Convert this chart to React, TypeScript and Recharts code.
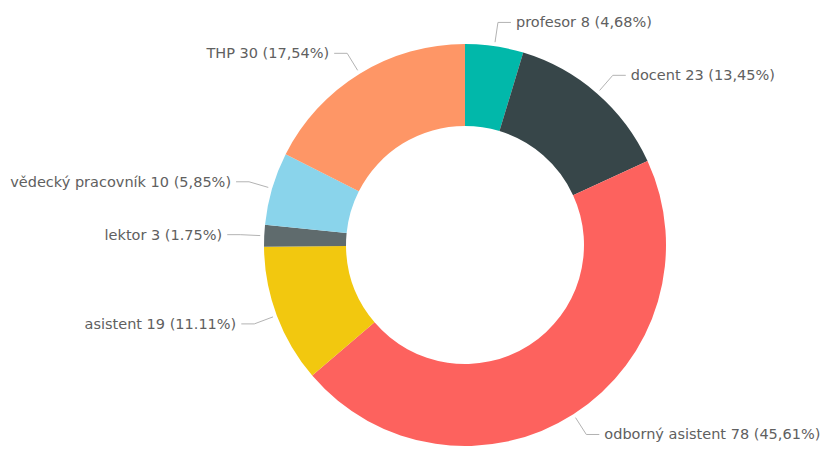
import { PieChart, Pie, Cell } from "recharts";

const categories = [
  "profesor",
  "docent",
  "odborný asistent",
  "asistent",
  "lektor",
  "vědecký pracovník",
  "THP",
];
const counts = [8, 23, 78, 19, 3, 10, 30];
const percentLabels = ["4,68%", "13,45%", "45,61%", "11.11%", "1.75%", "5,85%", "17,54%"];
const colors = ["#01B8AA", "#374649", "#FD625E", "#F2C80F", "#5F6B6D", "#8AD4EB", "#FE9666"];

const data = categories.map((name, i) => ({ name, value: counts[i] }));

const RAD = Math.PI / 180;

// lomená vodicí čára + popisek ve stylu Power BI
function renderLabel(props: any) {
  const { cx, cy, midAngle, outerRadius, index } = props;
  const sin = Math.sin(-midAngle * RAD);
  const cos = Math.cos(-midAngle * RAD);
  const x0 = cx + (outerRadius + 4) * cos;
  const y0 = cy + (outerRadius + 4) * sin;
  const x1 = cx + (outerRadius + 24) * cos;
  const y1 = cy + (outerRadius + 24) * sin;
  const right = cos >= 0;
  const x2 = x1 + (right ? 13 : -13);
  const tx = x2 + (right ? 5 : -5);
  return (
    <g key={`lbl-${index}`}>
      <polyline
        points={`${x0},${y0} ${x1},${y1} ${x2},${y1}`}
        fill="none"
        stroke="#b3b3b3"
        strokeWidth={1}
      />
      <text
        x={tx}
        y={y1}
        textAnchor={right ? "start" : "end"}
        dominantBaseline="central"
        fill="#606060"
        fontSize={14.5}
        fontFamily="'DejaVu Sans', sans-serif"
      >
        {`${categories[index]} ${counts[index]} (${percentLabels[index]})`}
      </text>
    </g>
  );
}

export default function App() {
  return (
    <div style={{ position: "absolute", left: 0, top: 0, width: 826, height: 450, background: "#fff" }}>
      <PieChart width={826} height={450} margin={{ top: 0, right: 0, bottom: 0, left: 0 }}>
        <Pie
          data={data}
          dataKey="value"
          nameKey="name"
          cx={465}
          cy={245}
          innerRadius={119}
          outerRadius={201}
          startAngle={90}
          endAngle={-270}
          stroke="none"
          label={renderLabel}
          labelLine={false}
          isAnimationActive={false}
        >
          {data.map((d, i) => (
            <Cell key={d.name} fill={colors[i]} />
          ))}
        </Pie>
      </PieChart>
    </div>
  );
}
